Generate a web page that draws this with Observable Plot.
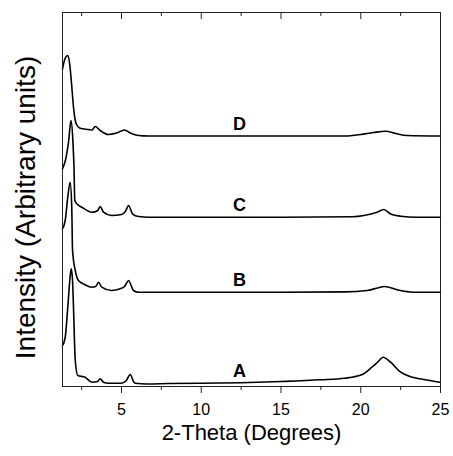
<!DOCTYPE html>
<html>
<head>
<meta charset="utf-8">
<script src="https://cdn.jsdelivr.net/npm/d3@7"></script>
<script src="https://cdn.jsdelivr.net/npm/@observablehq/plot@0.6"></script>
<style>
  html, body { margin: 0; padding: 0; background: #fff; }
  svg { display: block; }
</style>
</head>
<body>
<div id="chart"></div>
<script>
// Sample names (bottom to top) and vertical stacking offsets (arbitrary units)
const samples = ["A", "B", "C", "D"];
const offsets = [3, 94.3, 169.3, 250.5];

// Series A
const aTheta = [1.30,1.47,1.63,1.78,1.85,1.93,1.99,2.10,2.26,2.72,3.14,3.50,3.66,3.90,4.18,5.00,5.30,5.55,5.75,5.86,6.57,8.0,10.0,12.5,15.0,17.5,19.0,20.1,20.7,21.1,21.4,21.87,22.5,23.1,24.06,24.94];
const aInt   = [38,46,76,107,114.7,103,76,23,8,6.3,1.3,2,4.7,1,0.3,0.3,3,9,2,0.3,-0.5,0,0.3,0.8,2,3.7,5.3,9,16.3,22,26.3,21.3,11.3,7,3.7,1.3];

// Series B
const bTheta = [1.30,1.47,1.63,1.78,1.88,1.93,2.10,2.30,2.72,3.14,3.40,3.56,3.76,4.37,4.92,5.20,5.44,5.75,6.07,10,15,19,20.4,21.0,21.5,22.3,23.3,25];
const bInt   = [63.4,71.7,95,110,85,42,21.7,11.7,7.4,5,6,10,5,1.7,3.4,6,11.7,1.7,0,0,0,0.3,1.7,4,5.7,2.3,0,0];

// Series C
const cTheta = [1.30,1.48,1.69,1.83,1.95,2.02,2.07,2.20,2.51,3.14,3.50,3.66,3.87,4.37,5.00,5.25,5.44,5.69,6.07,6.7,10,15,19.5,20.2,21.03,21.45,21.87,22.5,23.5,25];
const cInt   = [48.4,56.7,76.7,96.7,76.7,50,17,13.4,10,5,6.5,10.7,5,1.7,2.7,6,11.7,3.4,0.7,0,0,0,0.5,1.7,5,7.7,3.3,1,0,0];

// Series D
const dTheta = [1.30,1.45,1.63,1.75,1.85,1.99,2.10,2.20,2.37,2.93,3.15,3.35,3.66,4.18,4.69,5.19,5.55,6.07,6.69,10,15,19,20.0,20.8,21.55,22.2,22.9,25];
const dInt   = [67,77,80.5,72,55.5,29,15.5,11,8,6.5,6,9.5,5.5,1.5,3,6,3,0.5,0,0,0,0,1.5,3.5,4.8,2.5,0.5,0];

// Axis ticks
const majorTicks = [5, 10, 15, 20, 25];
const minorTicks = [2.5, 7.5, 12.5, 17.5, 22.5];
const labelTheta = 12.4;

const thetas = [aTheta, bTheta, cTheta, dTheta];
const ints = [aInt, bInt, cInt, dInt];
const rows = samples.flatMap((s, i) =>
  thetas[i].map((t, j) => ({sample: s, theta: t, intensity: ints[i][j] + offsets[i]}))
);
const labels = samples.map((s, i) => ({sample: s, theta: labelTheta, intensity: offsets[i]}));

const font = "'Liberation Sans', Arial, Helvetica, sans-serif";
const blank = () => "";
const plotH = 456 - 12 - 70;

const chart = Plot.plot({
  width: 453,
  height: 456,
  marginLeft: 62,
  marginRight: 13,
  marginTop: 12,
  marginBottom: 70,
  style: {fontFamily: font, background: "#fff", color: "#000"},
  x: {domain: [1.3, 25]},
  y: {domain: [0, 374]},
  marks: [
    Plot.lineY(rows, {x: "theta", y: "intensity", z: "sample", stroke: "#000", strokeWidth: 1.6, curve: "monotone-x"}),
    Plot.text(labels, {x: "theta", y: "intensity", text: "sample", dy: -12, fontSize: 18, fontWeight: "bold", fill: "#000"}),
    Plot.axisX({ticks: majorTicks, tickSize: 7, tickPadding: 10, fontSize: 16, label: null, stroke: "#222"}),
    Plot.axisX({ticks: minorTicks, tickSize: 4, tickFormat: blank, label: null, stroke: "#222"}),
    // inward ticks along the top edge
    Plot.tickX(majorTicks, {x: d => d, stroke: "#222", insetBottom: plotH - 7}),
    Plot.tickX(minorTicks, {x: d => d, stroke: "#222", insetBottom: plotH - 4}),
    Plot.axisY({ticks: [], label: null}),
    Plot.frame({stroke: "#222", strokeWidth: 1}),
    Plot.text(["2-Theta (Degrees)"], {frameAnchor: "bottom", dy: 53, fontSize: 22, fill: "#000", letterSpacing: "-0.4px"}),
    Plot.text(["Intensity (Arbitrary units)"], {frameAnchor: "left", textAnchor: "middle", dx: -36, dy: 8, rotate: -90, fontSize: 28, fill: "#000"})
  ]
});
document.getElementById("chart").appendChild(chart);
</script>
</body>
</html>
